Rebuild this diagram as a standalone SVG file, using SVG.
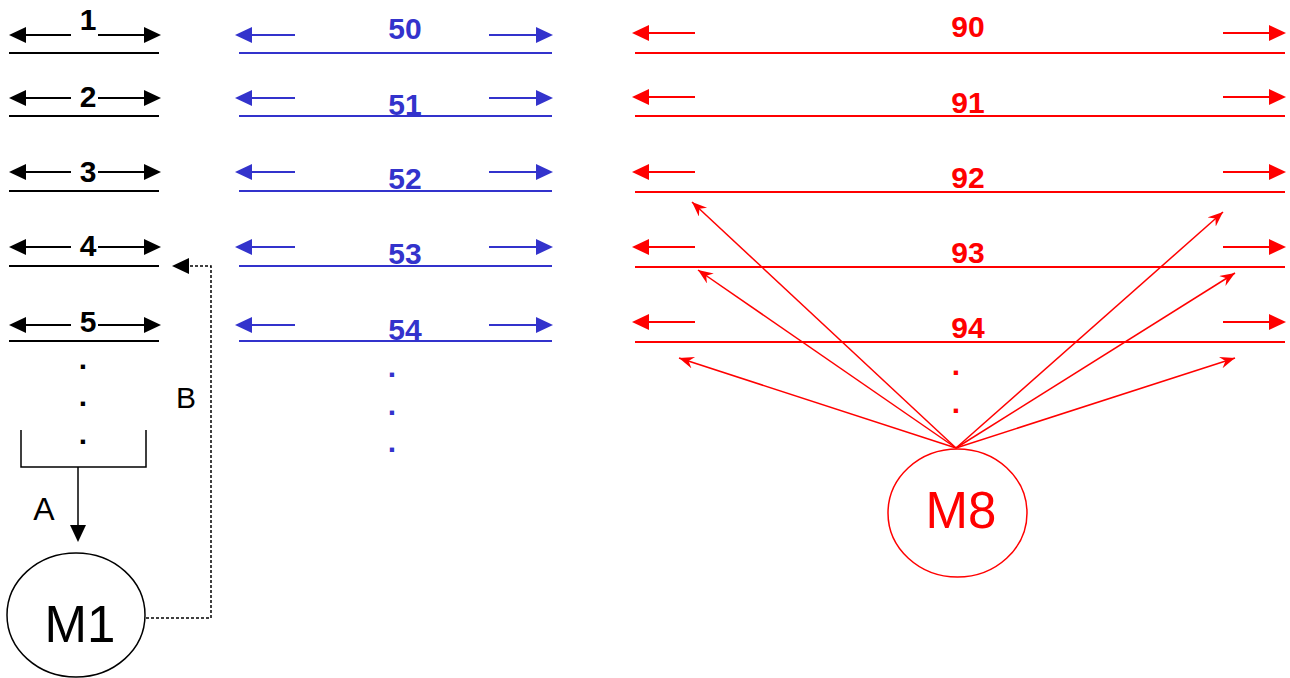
<svg xmlns="http://www.w3.org/2000/svg" xmlns:xlink="http://www.w3.org/1999/xlink" width="1290" height="678" viewBox="0 0 1290 678">
<style>
.k{stroke:#000;stroke-width:2;fill:none}
.b{stroke:#3333cc;stroke-width:2;fill:none}
.r{stroke:#ff0000;stroke-width:2;fill:none}
.hk{fill:#000}
.hb{fill:#3333cc}
.hr{fill:#ff0000}
.fan{stroke:#ff0000;stroke-width:1.5;fill:none;marker-end:url(#ms)}
.lk{font-family:"Liberation Sans",Arial,sans-serif;font-weight:bold;font-size:30px;fill:#000;text-anchor:middle}
.lb{font-family:"Liberation Sans",Arial,sans-serif;font-weight:bold;font-size:30px;fill:#3333cc;text-anchor:middle}
.lr{font-family:"Liberation Sans",Arial,sans-serif;font-weight:bold;font-size:30px;fill:#ff0000;text-anchor:middle}
.big{font-family:"Liberation Sans",Arial,sans-serif;font-size:51px;text-anchor:middle}
.let{font-family:"Liberation Sans",Arial,sans-serif;fill:#000;text-anchor:middle}
</style>
<defs>
<path id="ah" d="M0,0 L-17,-8 L-17,8 z"/>
<marker id="ms" markerUnits="userSpaceOnUse" markerWidth="18" markerHeight="14" refX="15" refY="6" orient="auto"><path d="M15,6 L0,0 L5,6 L0,12 z" fill="#ff0000"/></marker>
</defs>

<g id="black-buses">
<g id="bus1"><line class="k" x1="71" y1="35" x2="24" y2="35"/><use href="#ah" class="hk" transform="translate(9,35) scale(-1,1)"/><line class="k" x1="98" y1="35" x2="146" y2="35"/><use href="#ah" class="hk" transform="translate(161,35)"/><line class="k" x1="9" y1="53" x2="159" y2="53"/><text class="lk" x="88" y="30">1</text></g>
<g id="bus2"><line class="k" x1="71" y1="98" x2="24" y2="98"/><use href="#ah" class="hk" transform="translate(9,98) scale(-1,1)"/><line class="k" x1="98" y1="98" x2="146" y2="98"/><use href="#ah" class="hk" transform="translate(161,98)"/><line class="k" x1="9" y1="116" x2="159" y2="116"/><text class="lk" x="88" y="107">2</text></g>
<g id="bus3"><line class="k" x1="71" y1="172" x2="24" y2="172"/><use href="#ah" class="hk" transform="translate(9,172) scale(-1,1)"/><line class="k" x1="98" y1="172" x2="146" y2="172"/><use href="#ah" class="hk" transform="translate(161,172)"/><line class="k" x1="9" y1="191" x2="159" y2="191"/><text class="lk" x="88" y="182">3</text></g>
<g id="bus4"><line class="k" x1="71" y1="247" x2="24" y2="247"/><use href="#ah" class="hk" transform="translate(9,247) scale(-1,1)"/><line class="k" x1="98" y1="247" x2="146" y2="247"/><use href="#ah" class="hk" transform="translate(161,247)"/><line class="k" x1="9" y1="266" x2="159" y2="266"/><text class="lk" x="88" y="256">4</text></g>
<g id="bus5"><line class="k" x1="71" y1="325" x2="24" y2="325"/><use href="#ah" class="hk" transform="translate(9,325) scale(-1,1)"/><line class="k" x1="98" y1="325" x2="146" y2="325"/><use href="#ah" class="hk" transform="translate(161,325)"/><line class="k" x1="9" y1="341" x2="159" y2="341"/><text class="lk" x="88" y="332">5</text></g>
<g id="black-dots"><text class="lk" x="83" y="369">.</text><text class="lk" x="83" y="406">.</text><text class="lk" x="83" y="444">.</text></g>
<path id="bracket" d="M21,430 V467 H146 V430" stroke="#000" stroke-width="1.5" fill="none"/>
</g>

<g id="blue-buses">
<g id="bus50"><line class="b" x1="295" y1="35" x2="250" y2="35"/><use href="#ah" class="hb" transform="translate(235,35) scale(-1,1)"/><line class="b" x1="489" y1="35" x2="538" y2="35"/><use href="#ah" class="hb" transform="translate(553,35)"/><line class="b" x1="239" y1="53" x2="552" y2="53"/><text class="lb" x="405" y="39">50</text></g>
<g id="bus51"><line class="b" x1="295" y1="98" x2="250" y2="98"/><use href="#ah" class="hb" transform="translate(235,98) scale(-1,1)"/><line class="b" x1="489" y1="98" x2="538" y2="98"/><use href="#ah" class="hb" transform="translate(553,98)"/><line class="b" x1="239" y1="116" x2="552" y2="116"/><text class="lb" x="405" y="115">51</text></g>
<g id="bus52"><line class="b" x1="295" y1="172" x2="250" y2="172"/><use href="#ah" class="hb" transform="translate(235,172) scale(-1,1)"/><line class="b" x1="489" y1="172" x2="538" y2="172"/><use href="#ah" class="hb" transform="translate(553,172)"/><line class="b" x1="239" y1="191" x2="552" y2="191"/><text class="lb" x="405" y="189">52</text></g>
<g id="bus53"><line class="b" x1="295" y1="247" x2="250" y2="247"/><use href="#ah" class="hb" transform="translate(235,247) scale(-1,1)"/><line class="b" x1="489" y1="247" x2="538" y2="247"/><use href="#ah" class="hb" transform="translate(553,247)"/><line class="b" x1="239" y1="266" x2="552" y2="266"/><text class="lb" x="405" y="264">53</text></g>
<g id="bus54"><line class="b" x1="295" y1="325" x2="250" y2="325"/><use href="#ah" class="hb" transform="translate(235,325) scale(-1,1)"/><line class="b" x1="489" y1="325" x2="538" y2="325"/><use href="#ah" class="hb" transform="translate(553,325)"/><line class="b" x1="239" y1="341" x2="552" y2="341"/><text class="lb" x="405" y="340">54</text></g>
<g id="blue-dots"><text class="lb" x="392" y="377">.</text><text class="lb" x="392" y="415">.</text><text class="lb" x="392" y="452">.</text></g>
</g>

<g id="red-buses">
<g id="bus90"><line class="r" x1="695" y1="33" x2="647" y2="33"/><use href="#ah" class="hr" transform="translate(632,33) scale(-1,1)"/><line class="r" x1="1223" y1="33" x2="1271" y2="33"/><use href="#ah" class="hr" transform="translate(1286,33)"/><line class="r" x1="635" y1="53" x2="1285" y2="53"/><text class="lr" x="968" y="37">90</text></g>
<g id="bus91"><line class="r" x1="695" y1="97" x2="647" y2="97"/><use href="#ah" class="hr" transform="translate(632,97) scale(-1,1)"/><line class="r" x1="1223" y1="97" x2="1271" y2="97"/><use href="#ah" class="hr" transform="translate(1286,97)"/><line class="r" x1="635" y1="116" x2="1285" y2="116"/><text class="lr" x="968" y="113">91</text></g>
<g id="bus92"><line class="r" x1="695" y1="172" x2="647" y2="172"/><use href="#ah" class="hr" transform="translate(632,172) scale(-1,1)"/><line class="r" x1="1223" y1="172" x2="1271" y2="172"/><use href="#ah" class="hr" transform="translate(1286,172)"/><line class="r" x1="635" y1="192" x2="1285" y2="192"/><text class="lr" x="968" y="188">92</text></g>
<g id="bus93"><line class="r" x1="695" y1="247" x2="647" y2="247"/><use href="#ah" class="hr" transform="translate(632,247) scale(-1,1)"/><line class="r" x1="1223" y1="247" x2="1271" y2="247"/><use href="#ah" class="hr" transform="translate(1286,247)"/><line class="r" x1="635" y1="267" x2="1285" y2="267"/><text class="lr" x="968" y="263">93</text></g>
<g id="bus94"><line class="r" x1="695" y1="322" x2="647" y2="322"/><use href="#ah" class="hr" transform="translate(632,322) scale(-1,1)"/><line class="r" x1="1223" y1="322" x2="1271" y2="322"/><use href="#ah" class="hr" transform="translate(1286,322)"/><line class="r" x1="635" y1="342" x2="1285" y2="342"/><text class="lr" x="968" y="338">94</text></g>
<g id="red-dots"><text class="lr" x="956" y="375">.</text><text class="lr" x="956" y="413">.</text></g>
</g>

<g id="M1"><ellipse cx="76" cy="615" rx="69" ry="62" fill="#fff" stroke="#000" stroke-width="1.5"/><text class="big" x="80" y="642" fill="#000">M1</text></g>
<g id="M8"><ellipse cx="957.5" cy="513" rx="69.5" ry="64" fill="#fff" stroke="#ff0000" stroke-width="1.5"/><text class="big" x="961" y="528" fill="#ff0000">M8</text></g>

<g id="connectors">
<line x1="78" y1="467" x2="78" y2="528" stroke="#000" stroke-width="1.5"/>
<use href="#ah" class="hk" transform="translate(78,542) rotate(90)"/>
<path d="M146,618 H211 V266 H187" stroke="#000" stroke-width="1.5" stroke-dasharray="3,2" fill="none"/>
<use href="#ah" class="hk" transform="translate(172,266) scale(-1,1)"/>
<line class="fan" x1="956" y1="448" x2="692" y2="202"/>
<line class="fan" x1="956" y1="448" x2="698" y2="270"/>
<line class="fan" x1="956" y1="448" x2="679" y2="358"/>
<line class="fan" x1="956" y1="448" x2="1223" y2="212"/>
<line class="fan" x1="956" y1="448" x2="1235" y2="273"/>
<line class="fan" x1="956" y1="448" x2="1235" y2="358"/>
</g>
<text class="let" x="44" y="520" font-size="32">A</text>
<text class="let" x="186" y="408" font-size="30">B</text>
</svg>
